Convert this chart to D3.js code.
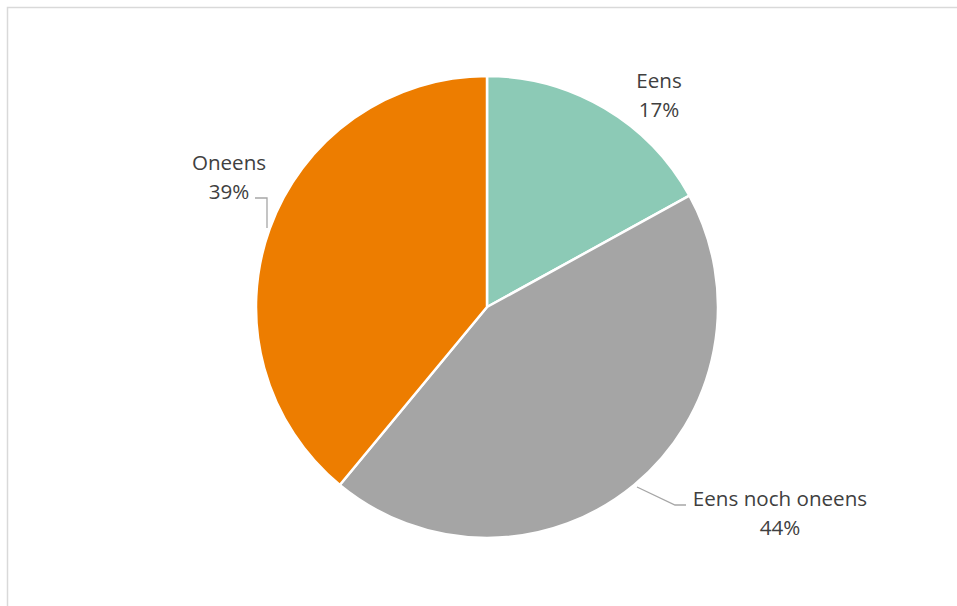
<!DOCTYPE html>
<html><head><meta charset="utf-8">
<script src="https://cdn.jsdelivr.net/npm/d3@7"></script>
<style>html,body{margin:0;padding:0;background:#fff;overflow:hidden}</style>
</head><body>
<script>
const categories = ["Eens", "Eens noch oneens", "Oneens"];
const values = [17, 44, 39];
const labels = ["17%", "44%", "39%"];
const colors = ["#8ccab6", "#a5a5a5", "#ed7d00"];

const W = 957, H = 606;
const svg = d3.select("body").append("svg").attr("width", W).attr("height", H);
svg.append("rect").attr("x", 7.5).attr("y", 7.5).attr("width", 1000).attr("height", 1000)
  .attr("fill", "#fff").attr("stroke", "#d9d9d9").attr("stroke-width", 1.5);

const cx = 487, cy = 307, R = 231;
const pie = d3.pie().sort(null).value(d => d)(values);
const arc = d3.arc().innerRadius(0).outerRadius(R);
const g = svg.append("g").attr("transform", `translate(${cx},${cy})`);
g.selectAll("path").data(pie).enter().append("path")
  .attr("d", arc).attr("fill", (d, i) => colors[i])
  .attr("stroke", "#fff").attr("stroke-width", 2.5).attr("stroke-linejoin", "round");

const labelPos = [
  {x: 172, y: -219},
  {x: 293, y: 199},
  {x: -258, y: -137}
];
const leaders = [
  null,
  [[150, 180], [188, 198], [199, 198]],
  [[-232, -109], [-220, -109], [-220, -79]]
];
const lg = g.append("g");
leaders.forEach(l => {
  if (!l) return;
  lg.append("path").attr("d", d3.line()(l)).attr("fill", "none")
    .attr("stroke", "#a6a6a6").attr("stroke-width", 1.3);
});
const tg = g.append("g").attr("font-family", "'Open Sans', sans-serif")
  .attr("font-size", 20.6).attr("fill", "#404040").attr("text-anchor", "middle");
pie.forEach((d, i) => {
  const t = tg.append("text").attr("x", labelPos[i].x).attr("y", labelPos[i].y);
  t.append("tspan").attr("x", labelPos[i].x).text(categories[i]);
  t.append("tspan").attr("x", labelPos[i].x).attr("dy", 29).text(labels[i]);
});
</script>
</body></html>
